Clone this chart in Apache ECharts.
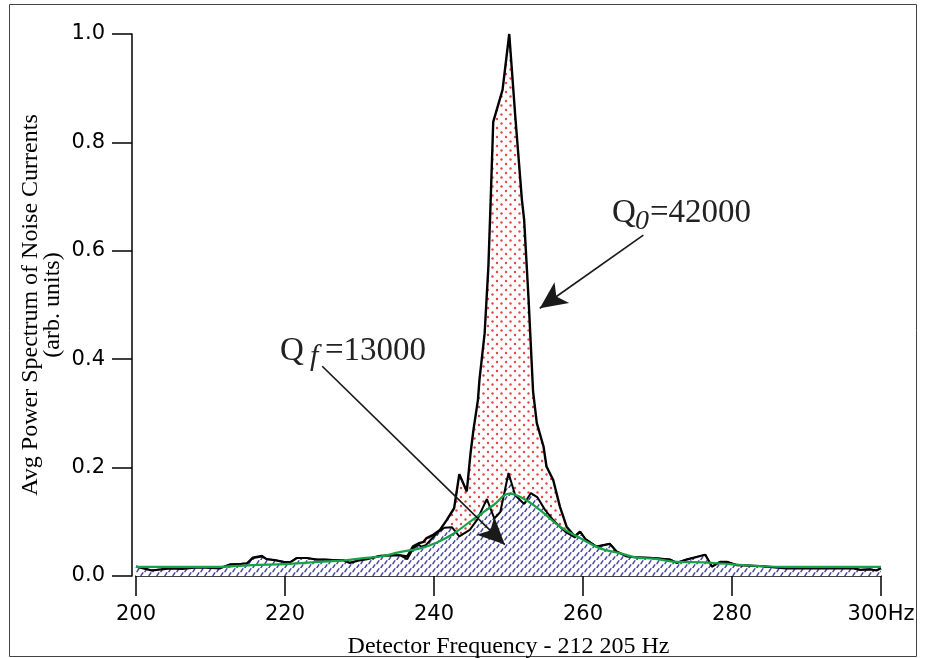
<!DOCTYPE html>
<html>
<head>
    <meta charset="utf-8">
    <title>Noise spectrum</title>
    <script src="https://cdn.jsdelivr.net/npm/echarts@6/dist/echarts.min.js"></script>
    <style>
        html, body { margin: 0; padding: 0; background: #fff; }
    </style>
</head>
<body>
    <div id="main" style="width: 936px; height: 658px;"></div>
    <script type="text/javascript">
        // ---- data: [frequency - 212 205 Hz, power (arb.)] ----
        var q0Data = [
            [200.0, 0.017], [201.0, 0.014], [202.1, 0.010], [203.4, 0.012], [204.6, 0.014],
            [206.2, 0.013], [207.8, 0.015], [209.4, 0.015], [211.3, 0.014], [212.6, 0.021],
            [214.0, 0.022], [214.9, 0.023], [215.7, 0.034], [216.9, 0.037], [217.5, 0.031],
            [218.6, 0.029], [219.8, 0.026], [220.7, 0.025], [221.6, 0.033], [222.9, 0.033],
            [224.3, 0.030], [225.4, 0.030], [226.5, 0.029], [227.8, 0.029], [228.7, 0.024],
            [229.8, 0.028], [231.0, 0.031], [232.8, 0.037], [234.5, 0.038], [235.5, 0.038],
            [236.4, 0.036], [237.2, 0.055], [237.9, 0.060], [238.6, 0.063], [239.0, 0.070],
            [239.9, 0.076], [240.8, 0.085], [241.7, 0.103], [242.7, 0.125], [243.4, 0.188],
            [244.4, 0.156], [244.9, 0.226], [245.3, 0.270], [245.9, 0.325], [246.1, 0.362],
            [246.8, 0.448], [247.3, 0.571], [247.6, 0.690], [247.95, 0.838], [249.2, 0.897],
            [250.1, 1.000], [250.9, 0.850], [251.8, 0.694], [252.1, 0.657], [252.7, 0.509],
            [253.3, 0.340], [253.8, 0.282], [254.7, 0.239], [255.1, 0.202], [256.0, 0.177],
            [256.9, 0.128], [257.8, 0.091], [258.9, 0.073], [259.6, 0.082], [260.3, 0.068],
            [261.8, 0.054], [263.6, 0.059], [264.5, 0.045], [265.9, 0.036], [267.2, 0.034],
            [269.4, 0.033], [271.7, 0.030], [272.6, 0.024], [273.9, 0.030], [276.4, 0.039],
            [277.3, 0.017], [278.4, 0.026], [279.3, 0.026], [280.6, 0.020], [283.8, 0.018],
            [287.3, 0.014], [291.8, 0.014], [296.3, 0.014], [297.2, 0.011], [298.5, 0.012],
            [299.4, 0.010], [300.0, 0.014]
        ];

        var qfData = [
            [200.0, 0.017], [201.0, 0.014], [202.1, 0.010], [203.4, 0.012], [204.6, 0.014],
            [206.2, 0.013], [207.8, 0.015], [209.4, 0.015], [211.3, 0.014], [212.6, 0.021],
            [214.0, 0.022], [214.9, 0.023], [215.7, 0.033], [216.9, 0.036], [217.5, 0.031],
            [218.6, 0.029], [219.8, 0.026], [220.7, 0.025], [221.6, 0.033], [222.9, 0.033],
            [224.3, 0.030], [225.4, 0.030], [226.5, 0.029], [227.8, 0.029], [228.7, 0.024],
            [229.8, 0.028], [231.0, 0.031], [232.8, 0.037], [234.5, 0.038], [235.5, 0.038],
            [236.4, 0.031], [237.2, 0.051], [237.9, 0.058], [238.3, 0.054], [238.9, 0.057],
            [239.5, 0.066], [240.6, 0.082], [241.4, 0.089], [242.4, 0.090], [243.4, 0.073],
            [244.8, 0.085], [245.8, 0.104], [247.1, 0.142], [248.1, 0.106], [248.9, 0.118],
            [250.0, 0.190], [250.9, 0.149], [252.1, 0.133], [253.0, 0.153], [253.9, 0.145],
            [254.9, 0.122], [256.2, 0.100], [257.6, 0.082], [258.9, 0.071], [259.6, 0.082],
            [260.3, 0.068], [261.8, 0.054], [263.6, 0.059], [264.5, 0.045], [265.9, 0.036],
            [267.2, 0.034], [269.4, 0.033], [271.7, 0.030], [272.6, 0.024], [273.9, 0.030],
            [276.4, 0.039], [277.3, 0.017], [278.4, 0.026], [279.3, 0.026], [280.6, 0.020],
            [283.8, 0.018], [287.3, 0.014], [291.8, 0.014], [296.3, 0.014], [297.2, 0.011],
            [298.5, 0.012], [299.4, 0.010], [300.0, 0.014]
        ];

        // green fitted curve
        var fitData = [
            [200.0, 0.017], [211.3, 0.017], [215.7, 0.020], [220.0, 0.022], [224.7, 0.026],
            [228.0, 0.029], [230.5, 0.033], [232.8, 0.036], [235.4, 0.044], [238.1, 0.051],
            [240.4, 0.062], [242.6, 0.078], [245.4, 0.106], [248.0, 0.131], [250.1, 0.152],
            [252.0, 0.143], [254.2, 0.122], [256.9, 0.091], [259.6, 0.070], [262.3, 0.051],
            [265.0, 0.042], [267.2, 0.034], [269.4, 0.032], [272.6, 0.026], [276.1, 0.025],
            [279.7, 0.022], [284.2, 0.018], [287.3, 0.017], [300.0, 0.017]
        ];

        var xTicks = [200, 220, 240, 260, 280, 300];
        var yTicks = [0.0, 0.2, 0.4, 0.6, 0.8, 1.0];

        // arrows: [from, to] in data coords
        var q0Arrow = [[268.1, 0.629], [254.2, 0.494]];
        var qfArrow = [[225.0, 0.387], [249.5, 0.058]];

        // ---- fill patterns ----
        function dotPattern() {
            var c = document.createElement('canvas');
            c.width = 9; c.height = 9;
            var ctx = c.getContext('2d');
            ctx.fillStyle = '#fff';
            ctx.fillRect(0, 0, 9, 9);
            ctx.fillStyle = 'rgba(228,50,50,0.9)';
            [[2, 2], [6.5, 6.5]].forEach(function (p) {
                ctx.beginPath();
                ctx.arc(p[0], p[1], 1.2, 0, Math.PI * 2);
                ctx.fill();
            });
            return c;
        }

        function hatchPattern() {
            var c = document.createElement('canvas');
            c.width = 8; c.height = 8;
            var ctx = c.getContext('2d');
            ctx.fillStyle = '#fff';
            ctx.fillRect(0, 0, 8, 8);
            ctx.strokeStyle = '#45459a';
            ctx.lineWidth = 1.5;
            ctx.lineCap = 'round';
            ctx.beginPath();
            ctx.moveTo(1.0, 3.6); ctx.lineTo(2.8, 0.9);
            ctx.moveTo(5.0, 7.6); ctx.lineTo(6.8, 4.9);
            ctx.stroke();
            return c;
        }

        var serif = '"Liberation Serif", "DejaVu Serif", serif';
        var sans = '"DejaVu Sans", "Liberation Sans", sans-serif';

        var chart = echarts.init(document.getElementById('main'));
        var option = {
            backgroundColor: '#fff',
            animation: false,
            grid: {
                left: 136, right: 55, top: 34, bottom: 82,
                containLabel: false, outerBoundsMode: 'none'
            },
            xAxis: {
                type: 'value',
                min: xTicks[0],
                max: xTicks[xTicks.length - 1],
                interval: 20,
                name: 'Detector Frequency - 212 205 Hz',
                nameLocation: 'middle',
                nameGap: 59,
                nameTextStyle: { fontFamily: serif, fontSize: 24, color: '#000' },
                axisLine: { onZero: false, lineStyle: { color: '#000', width: 1.5 } },
                axisTick: { length: 20, lineStyle: { color: '#000', width: 1.5 } },
                axisLabel: {
                    margin: 28, color: '#000', fontFamily: sans, fontSize: 21,
                    formatter: function (v) { return v === 300 ? '300Hz' : String(v); }
                },
                splitLine: { show: false }
            },
            yAxis: {
                type: 'value',
                min: yTicks[0],
                max: yTicks[yTicks.length - 1],
                interval: 0.2,
                offset: 4,
                name: 'Avg Power Spectrum of Noise Currents\n(arb. units)',
                nameLocation: 'middle',
                nameGap: 68,
                nameMoveOverlap: false,
                nameTextStyle: { fontFamily: serif, fontSize: 24, color: '#000', lineHeight: 22 },
                axisLine: { show: true, lineStyle: { color: '#000', width: 1.5 } },
                axisTick: { show: true, length: 20, lineStyle: { color: '#000', width: 1.5 } },
                axisLabel: {
                    margin: 27, color: '#000', fontFamily: sans, fontSize: 21,
                    formatter: function (v) { return v.toFixed(1); }
                },
                splitLine: { show: false }
            },
            series: [
                {
                    name: 'Q0',
                    type: 'line',
                    data: q0Data,
                    showSymbol: false,
                    z: 1,
                    lineStyle: { color: '#000', width: 2.4 },
                    areaStyle: { color: { image: dotPattern(), repeat: 'repeat' }, opacity: 1 }
                },
                {
                    name: 'Qf',
                    type: 'line',
                    data: qfData,
                    showSymbol: false,
                    z: 2,
                    lineStyle: { color: '#000', width: 2 },
                    areaStyle: { color: { image: hatchPattern(), repeat: 'repeat' }, opacity: 1 }
                },
                {
                    name: 'fit',
                    type: 'line',
                    data: fitData,
                    showSymbol: false,
                    smooth: 0.4,
                    z: 3,
                    lineStyle: { color: '#16a347', width: 2.2 },
                    markLine: {
                        silent: true,
                        symbol: ['none', 'arrow'],
                        symbolSize: [19, 27],
                        label: { show: false },
                        lineStyle: { color: '#1a1a1a', width: 1.7, type: 'solid' },
                        data: [
                            [{ coord: q0Arrow[0] }, { coord: q0Arrow[1] }],
                            [{ coord: qfArrow[0] }, { coord: qfArrow[1] }]
                        ]
                    }
                }
            ],
            graphic: [
                {
                    type: 'rect', silent: true,
                    shape: { x: 9.5, y: 4.5, width: 907, height: 652 },
                    style: { fill: 'none', stroke: '#444', lineWidth: 1 }
                },
                // Q0 = 42000
                { type: 'text', x: 612, y: 213, style: { text: 'Q', font: '33px ' + serif, fill: '#222', verticalAlign: 'middle' } },
                { type: 'text', x: 635, y: 222, style: { text: '0', font: 'italic 28px ' + serif, fill: '#222', verticalAlign: 'middle' } },
                { type: 'text', x: 650, y: 213, style: { text: '=42000', font: '33px ' + serif, fill: '#222', verticalAlign: 'middle' } },
                // Qf = 13000
                { type: 'text', x: 280, y: 351, style: { text: 'Q', font: '33px ' + serif, fill: '#222', verticalAlign: 'middle' } },
                { type: 'text', x: 310, y: 357, style: { text: 'f', font: 'italic 30px ' + serif, fill: '#222', verticalAlign: 'middle' } },
                { type: 'text', x: 325, y: 351, style: { text: '=13000', font: '33px ' + serif, fill: '#222', verticalAlign: 'middle' } }
            ]
        };
        chart.setOption(option);
    </script>
</body>
</html>
